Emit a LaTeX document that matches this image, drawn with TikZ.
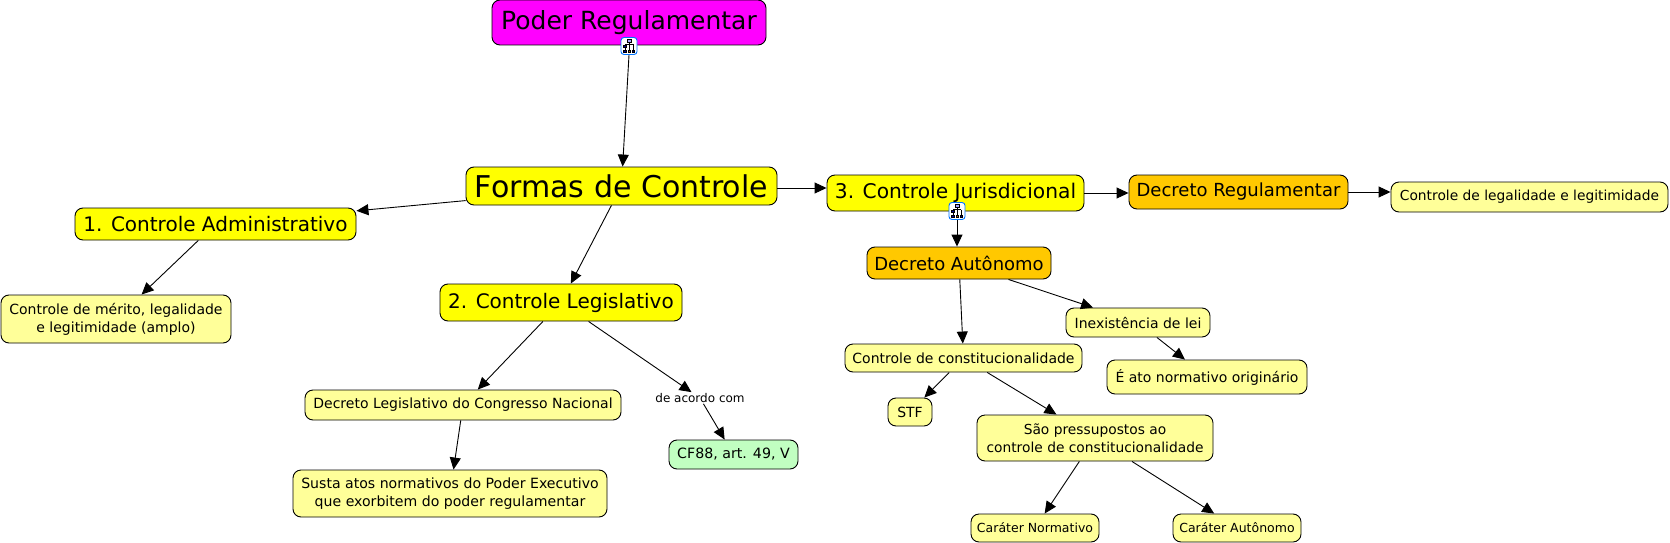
\documentclass[tikz,border=0pt]{standalone}
\usepackage{fontspec}
\setmainfont{DejaVu Sans}
\usetikzlibrary{arrows.meta,calc}
\definecolor{magentabox}{HTML}{FF00FF}
\definecolor{yellowbox}{HTML}{FFFF00}
\definecolor{orangebox}{HTML}{FFC800}
\definecolor{paleyellow}{HTML}{FFFF99}
\definecolor{palegreen}{HTML}{C1FFC1}
\tikzset{
  concept/.style={draw=black,line width=0.9pt,rounded corners=8pt,inner sep=0pt,align=center,text=black},
  link/.style={draw=black,line width=0.9pt,-{Triangle[length=12pt,width=11pt]}},
  iconbox/.style={draw=blue!55!cyan,fill=white,line width=0.9pt,rounded corners=3pt,minimum width=16pt,minimum height=17pt,inner sep=0pt},
}
\newcommand{\concept}[8]{% name, x0, y0, x1, y1, fill, size, text
  \node[concept,fill=#6,minimum width=#4pt-#2pt,minimum height=#5pt-#3pt,font=\fontsize{#7}{18}\selectfont] (#1) at ({(#2+#4)/2},{-(#3+#5)/2}) {#8};
}
\newcommand{\treeicon}[1]{%
  \begin{scope}[shift={(#1)},line width=0.4pt]
    \draw[black] (0,4) -- (0,1.5) (-4,1.5) -- (4,1.5) (-4,1.5) -- (-4,-4) (4,1.5) -- (4,-4) (0,1.5) -- (0,-4);
    \filldraw[fill=blue!35,draw=black] (-1.8,3.5) rectangle (1.8,6.5);
    \filldraw[fill=blue!60!black,draw=black] (-5.5,-1.5) rectangle (-2.5,0.8);
    \filldraw[fill=orange!80!black,draw=black] (-1.3,-6.5) rectangle (1.3,-4);
    \filldraw[fill=blue!60!black,draw=black] (-5.5,-6.5) rectangle (-3,-4);
    \filldraw[fill=blue!60!black,draw=black] (3,-6.5) rectangle (5.5,-4);
  \end{scope}}
\begin{document}
\begin{tikzpicture}[x=1pt,y=1pt]
\useasboundingbox (0,0) rectangle (1670,-543);
\concept{poder}{492}{0}{766}{45}{magentabox}{25}{Poder Regulamentar}
\concept{formas}{466}{167}{777}{205}{yellowbox}{30}{Formas de Controle}
\concept{jur}{827}{175}{1084}{211}{yellowbox}{20.2}{3. Controle Jurisdicional}
\concept{adm}{75}{208}{356}{240}{yellowbox}{20}{1. Controle Administrativo}
\concept{leg}{440}{284}{682}{321}{yellowbox}{20}{2. Controle Legislativo}
\concept{autonomo}{867}{247}{1051}{279}{orangebox}{18}{Decreto Autônomo}
\concept{regul}{1129}{175}{1348}{209}{orangebox}{18}{Decreto Regulamentar}
\concept{legal}{1391}{182}{1668}{212}{paleyellow}{13.8}{Controle de legalidade e legitimidade}
\concept{merito}{1}{295}{231}{343}{paleyellow}{14}{Controle de mérito, legalidade\\e legitimidade (amplo)}
\concept{decleg}{305}{390}{621}{420}{paleyellow}{14}{Decreto Legislativo do Congresso Nacional}
\concept{susta}{293}{470}{607}{517}{paleyellow}{14.1}{Susta atos normativos do Poder Executivo\\que exorbitem do poder regulamentar}
\concept{cf}{669}{440}{798}{469}{palegreen}{14.2}{CF88, art. 49, V}
\concept{inex}{1066}{308}{1210}{337}{paleyellow}{14}{Inexistência de lei}
\concept{ato}{1107}{360}{1307}{394}{paleyellow}{14}{É ato normativo originário}
\concept{const}{845}{344}{1082}{372}{paleyellow}{14}{Controle de constitucionalidade}
\concept{stf}{888}{398}{932}{426}{paleyellow}{14}{STF}
\concept{pressup}{977}{415}{1213}{461}{paleyellow}{13.8}{São pressupostos ao\\controle de constitucionalidade}
\concept{normativo}{971}{514}{1099}{542}{paleyellow}{12.5}{Caráter Normativo}
\concept{autonomoc}{1173}{514}{1301}{542}{paleyellow}{12.5}{Caráter Autônomo}
\node[inner sep=1pt,font=\fontsize{12}{15}\selectfont] (deacordo) at (700,-398) {de acordo com};

\node[iconbox] (iconpoder) at (629,-46) {};
\node[iconbox] (iconjur) at (957,-211) {};
\treeicon{iconpoder}
\treeicon{iconjur}

\draw[link] (iconpoder.south) -- (formas);
\draw[link] ($(formas.east)+(0,-2)$) -- ($(jur.west)+(0,5)$);
\draw[link] (formas) -- (adm);
\draw[link] (formas) -- (leg);
\draw[link] (jur.east) -- (jur.east -| regul.west);
\draw[link] (regul.east) -- (regul.east -| legal.west);
\draw[link] (iconjur.south) -- (iconjur.south |- autonomo.north);
\draw[link] (adm) -- (merito);
\draw[link] (leg) -- (decleg);
\draw[link] (leg) -- (deacordo);
\draw[link] (deacordo) -- (cf);
\draw[link] (decleg) -- (susta);
\draw[link] (autonomo) -- (const);
\draw[link] (autonomo) -- (inex);
\draw[link] (inex) -- (ato);
\draw[link] (const) -- (stf);
\draw[link] (const) -- (pressup);
\draw[link] (pressup) -- (normativo);
\draw[link] (pressup) -- (autonomoc);
\end{tikzpicture}
\end{document}
